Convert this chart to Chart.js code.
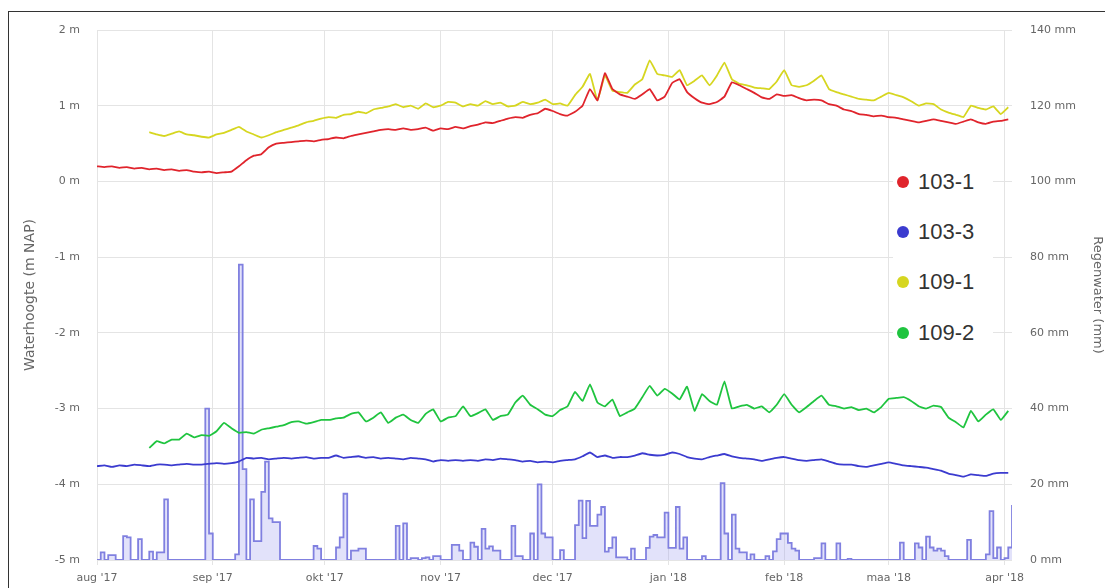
<!DOCTYPE html>
<html>
<head>
<meta charset="utf-8">
<script src="https://cdn.jsdelivr.net/npm/chart.js@4.4.0/dist/chart.umd.min.js"></script>
<style>
  html, body { margin: 0; padding: 0; background: #fff; overflow: hidden; }
  #wrap { position: relative; width: 1105px; height: 588px; }
  #frame { position: absolute; left: 8px; top: 11px; width: 1200px; height: 700px; border: 1px solid #333; box-sizing: border-box; pointer-events: none; }
  #legend { position: absolute; left: 893px; top: 160px; width: 100px; height: 192px; background: #fff; font-family: "Liberation Sans", Arial, sans-serif; font-size: 22px; color: #333; }
  .item { position: absolute; left: 0; width: 100px; height: 26px; line-height: 26px; }
  .dot { position: absolute; left: 4px; top: 7px; width: 12px; height: 12px; border-radius: 50%; }
  .lbl { position: absolute; left: 25px; top: 0; }
</style>
</head>
<body>
<div id="wrap">
  <canvas id="chart"></canvas>
  <div id="legend"></div>
  <div id="frame"></div>
</div>
<script>
// x axis: days since 1 aug 2017
const monthTicks = [0, 31, 61, 92, 122, 153, 184, 212, 243];
const monthLabels = ["aug '17", "sep '17", "okt '17", "nov '17", "dec '17", "jan '18", "feb '18", "maa '18", "apr '18"];

// water levels, one reading every 2 days (m NAP)
const lineDays = Array.from({ length: 123 }, (_, i) => i * 2);

const level1031 = [
  0.20, 0.19, 0.20, 0.18, 0.19, 0.17, 0.18, 0.16, 0.17, 0.15,
  0.16, 0.14, 0.15, 0.13, 0.12, 0.13, 0.11, 0.12, 0.13, 0.20,
  0.28, 0.34, 0.36, 0.45, 0.50, 0.51, 0.52, 0.53, 0.54, 0.53,
  0.55, 0.56, 0.58, 0.57, 0.60, 0.62, 0.64, 0.66, 0.68, 0.69,
  0.68, 0.70, 0.68, 0.69, 0.71, 0.67, 0.70, 0.69, 0.72, 0.70,
  0.73, 0.75, 0.78, 0.77, 0.80, 0.83, 0.85, 0.84, 0.88, 0.90,
  0.96, 0.93, 0.89, 0.87, 0.92, 1.00, 1.22, 1.07, 1.43, 1.22,
  1.15, 1.12, 1.09, 1.15, 1.22, 1.07, 1.12, 1.30, 1.35, 1.18,
  1.10, 1.04, 1.02, 1.05, 1.12, 1.31, 1.27, 1.22, 1.17, 1.11,
  1.09, 1.15, 1.13, 1.14, 1.10, 1.07, 1.08, 1.07, 1.02, 1.00,
  0.95, 0.93, 0.89, 0.88, 0.86, 0.87, 0.85, 0.84, 0.82, 0.80,
  0.78, 0.80, 0.82, 0.80, 0.78, 0.76, 0.79, 0.82, 0.78, 0.76,
  0.79, 0.80, 0.82
];

const level1033 = [
  -3.76, -3.75, -3.77, -3.75, -3.76, -3.74, -3.75, -3.76, -3.74, -3.74,
  -3.75, -3.74, -3.73, -3.74, -3.74, -3.73, -3.72, -3.73, -3.72, -3.70,
  -3.65, -3.66, -3.65, -3.67, -3.66, -3.65, -3.66, -3.65, -3.64, -3.66,
  -3.65, -3.65, -3.62, -3.65, -3.64, -3.63, -3.65, -3.64, -3.66, -3.65,
  -3.66, -3.67, -3.65, -3.66, -3.67, -3.70, -3.68, -3.69, -3.68, -3.69,
  -3.68, -3.69, -3.67, -3.68, -3.66, -3.67, -3.68, -3.70, -3.69, -3.71,
  -3.70, -3.71, -3.69, -3.68, -3.67, -3.63, -3.58, -3.64, -3.62, -3.65,
  -3.64, -3.64, -3.62, -3.59, -3.61, -3.62, -3.61, -3.58, -3.60, -3.64,
  -3.66, -3.67, -3.64, -3.62, -3.60, -3.63, -3.65, -3.66, -3.67, -3.69,
  -3.67, -3.65, -3.64, -3.66, -3.68, -3.69, -3.68, -3.67, -3.70, -3.73,
  -3.74, -3.74, -3.76, -3.77, -3.75, -3.73, -3.71, -3.73, -3.75, -3.76,
  -3.77, -3.78, -3.80, -3.82, -3.86, -3.88, -3.90, -3.87, -3.88, -3.89,
  -3.86, -3.85, -3.85
];

const level1091 = [
  null, null, null, null, null, null, null, 0.65, 0.62, 0.60,
  0.63, 0.66, 0.62, 0.61, 0.59, 0.58, 0.62, 0.64, 0.68, 0.72,
  0.66, 0.62, 0.58, 0.61, 0.65, 0.68, 0.71, 0.74, 0.78, 0.80,
  0.83, 0.85, 0.84, 0.88, 0.89, 0.92, 0.90, 0.95, 0.97, 0.99,
  1.02, 0.98, 1.00, 0.96, 1.03, 0.98, 1.00, 1.05, 1.04, 0.99,
  1.02, 1.00, 1.06, 1.02, 1.04, 0.99, 1.00, 1.05, 1.02, 1.04,
  1.08, 1.02, 1.03, 1.00, 1.14, 1.25, 1.42, 1.07, 1.40, 1.20,
  1.18, 1.17, 1.28, 1.35, 1.60, 1.42, 1.40, 1.38, 1.47, 1.27,
  1.33, 1.40, 1.27, 1.40, 1.57, 1.35, 1.29, 1.27, 1.24, 1.23,
  1.22, 1.32, 1.47, 1.27, 1.25, 1.27, 1.33, 1.40, 1.22, 1.18,
  1.15, 1.12, 1.09, 1.08, 1.07, 1.12, 1.17, 1.14, 1.11, 1.06,
  1.00, 1.03, 1.02, 0.95, 0.91, 0.88, 0.85, 1.00, 0.97, 0.95,
  0.99, 0.89, 0.98
];

const level1092 = [
  null, null, null, null, null, null, null, -3.52, -3.43, -3.46,
  -3.41, -3.41, -3.33, -3.38, -3.35, -3.36, -3.30, -3.19, -3.26, -3.32,
  -3.31, -3.33, -3.28, -3.26, -3.24, -3.22, -3.18, -3.17, -3.20, -3.18,
  -3.15, -3.15, -3.13, -3.12, -3.07, -3.05, -3.17, -3.12, -3.05, -3.19,
  -3.12, -3.08, -3.15, -3.19, -3.07, -3.01, -3.17, -3.12, -3.10, -2.97,
  -3.10, -3.06, -3.01, -3.15, -3.10, -3.08, -2.92, -2.83, -2.95, -3.01,
  -3.08, -3.10, -3.02, -2.97, -2.78, -2.90, -2.68, -2.92, -2.97, -2.88,
  -3.10, -3.05, -3.00, -2.85, -2.70, -2.83, -2.74, -2.80, -2.88, -2.71,
  -3.03, -2.81, -2.90, -2.95, -2.64, -3.00, -2.97, -2.95, -3.00, -2.97,
  -3.05, -2.95, -2.81, -2.95, -3.05, -2.98, -2.90, -2.83, -2.95, -2.97,
  -3.00, -2.98, -3.02, -3.00, -3.05, -2.98, -2.87, -2.86, -2.85, -2.90,
  -2.97, -3.00, -2.96, -2.98, -3.12, -3.18, -3.25, -3.03, -3.17, -3.08,
  -3.01, -3.15, -3.03
];

// daily rain (mm)
const rainDays = Array.from({ length: 246 }, (_, i) => i);
const rain = [
  0, 2, 0, 1.3, 1.3, 0, 0, 6.3, 6, 0,
  0, 5.5, 0, 0, 2.2, 0, 2, 2, 16, 0,
  0, 0, 0, 0, 0, 0, 0, 0, 0, 40,
  7, 0, 0, 0, 0, 0, 0, 1.5, 78, 24,
  0, 16, 5, 5, 18, 26, 11, 10, 10, 0,
  0, 0, 0, 0, 0, 0, 0, 0, 3.7, 3,
  0, 0, 0, 0, 3.3, 6, 17.5, 0, 2.5, 2.5,
  3, 3, 0, 0, 0, 0, 0, 0, 0, 0,
  9, 0, 9.7, 0, 0.5, 0.5, 0, 0.5, 0.7, 0,
  1, 1, 0, 0, 0, 4, 4, 2.5, 0, 0,
  4.6, 3.5, 0, 8.2, 3, 3.6, 2.5, 2.5, 0, 0,
  0, 9, 1, 1, 0, 0, 7, 0, 20, 7,
  6, 6, 0, 0, 2.6, 0, 0, 0, 9.2, 15.7,
  5.8, 15.6, 9, 9, 12, 14, 2.2, 3.2, 6, 0.7,
  0.7, 0.7, 0, 3, 0, 0, 0, 3.2, 6.2, 6.6,
  6, 6, 12.5, 3.2, 3.2, 14, 3, 6, 0, 0,
  0, 0, 1, 0, 0, 0, 0, 20.3, 7, 0,
  12, 3, 2, 2, 0, 1.5, 0, 0, 0, 1,
  0, 2.3, 5.5, 7, 7, 4.5, 3, 2.5, 0, 0,
  0, 0, 0.5, 0.5, 4.4, 0, 0, 0, 4.4, 0,
  0, 0.3, 0, 0, 0, 0, 0, 0, 0, 0,
  0, 0, 0, 0, 0, 4.6, 0, 0, 0, 4.4,
  3.3, 0, 6.2, 3.3, 2.5, 3, 2.5, 1, 0, 0,
  0, 0, 0, 5.3, 0, 0, 0, 0, 1.5, 12.9,
  0.5, 3.3, 0, 0.5, 3.3, 14.5
];

const seriesNames = ["103-1", "103-3", "109-1", "109-2"];
const seriesColors = ["#e0242c", "#3b3bcf", "#d6d620", "#1fc43f"];
const seriesValues = [level1031, level1033, level1091, level1092];

document.addEventListener("DOMContentLoaded", function () {
    Chart.defaults.font.family = "'DejaVu Sans', Verdana, sans-serif";
    Chart.defaults.font.size = 11;
    Chart.defaults.color = "#666";

    const toPoints = (xs, ys) => xs.map((x, i) => ({ x: x, y: ys[i] }));

    const datasets = seriesNames.map((name, k) => ({
        label: name,
        data: toPoints(lineDays, seriesValues[k]),
        yAxisID: "y",
        borderColor: seriesColors[k],
        borderWidth: 1.8,
        pointRadius: 0,
        tension: 0.1,
        fill: false
    }));
    datasets.push({
        label: "Regenwater",
        data: toPoints(rainDays, rain),
        yAxisID: "y2",
        stepped: true,
        borderColor: "#8080e0",
        backgroundColor: "rgba(165, 165, 240, 0.32)",
        borderWidth: 1.8,
        pointRadius: 0,
        fill: "origin"
    });

    const ctx = document.getElementById("chart").getContext("2d");
    new Chart(ctx, {
        type: "line",
        data: { datasets: datasets },
        options: {
            responsive: true,
            maintainAspectRatio: false,
            animation: false,
            layout: { padding: { top: 30, left: 0, right: 0, bottom: 0 } },
            plugins: {
                legend: { display: false },
                tooltip: { enabled: false }
            },
            scales: {
                x: {
                    type: "linear",
                    min: 0,
                    max: 245,
                    afterBuildTicks: function (axis) {
                        axis.ticks = monthTicks.map(v => ({ value: v }));
                    },
                    afterFit: function (axis) { axis.height = 28; },
                    ticks: {
                        autoSkip: false,
                        maxRotation: 0,
                        padding: 7,
                        callback: function (v) { return monthLabels[monthTicks.indexOf(v)]; }
                    },
                    grid: { color: "#e4e4e4", tickLength: 5 },
                    border: { display: false }
                },
                y: {
                    position: "left",
                    min: -5,
                    max: 2,
                    afterFit: function (axis) { axis.width = 97; },
                    ticks: {
                        stepSize: 1,
                        padding: 17,
                        callback: function (v) { return v + " m"; }
                    },
                    title: {
                        display: true,
                        text: "Waterhoogte (m NAP)",
                        font: { size: 14 },
                        padding: { top: 22, bottom: 0 }
                    },
                    grid: { color: "#e4e4e4", drawTicks: false },
                    border: { display: false }
                },
                y2: {
                    position: "right",
                    min: 0,
                    max: 140,
                    afterFit: function (axis) { axis.width = 93; },
                    ticks: {
                        stepSize: 20,
                        padding: 18,
                        callback: function (v) { return v + " mm"; }
                    },
                    title: {
                        display: true,
                        text: "Regenwater (mm)",
                        font: { size: 13 },
                        padding: { top: 0, bottom: 0 }
                    },
                    grid: { drawOnChartArea: false, drawTicks: false },
                    border: { display: false }
                }
            }
        }
    });

    // legend drawn inside the plot, on a white box
    const legend = document.getElementById("legend");
    const rowCentres = [22, 72, 122, 173];
    seriesNames.forEach((name, k) => {
        const item = document.createElement("div");
        item.className = "item";
        item.style.top = (rowCentres[k] - 13) + "px";
        item.innerHTML = '<span class="dot" style="background:' + seriesColors[k] + '"></span><span class="lbl">' + name + '</span>';
        legend.appendChild(item);
    });
});
</script>
</body>
</html>
